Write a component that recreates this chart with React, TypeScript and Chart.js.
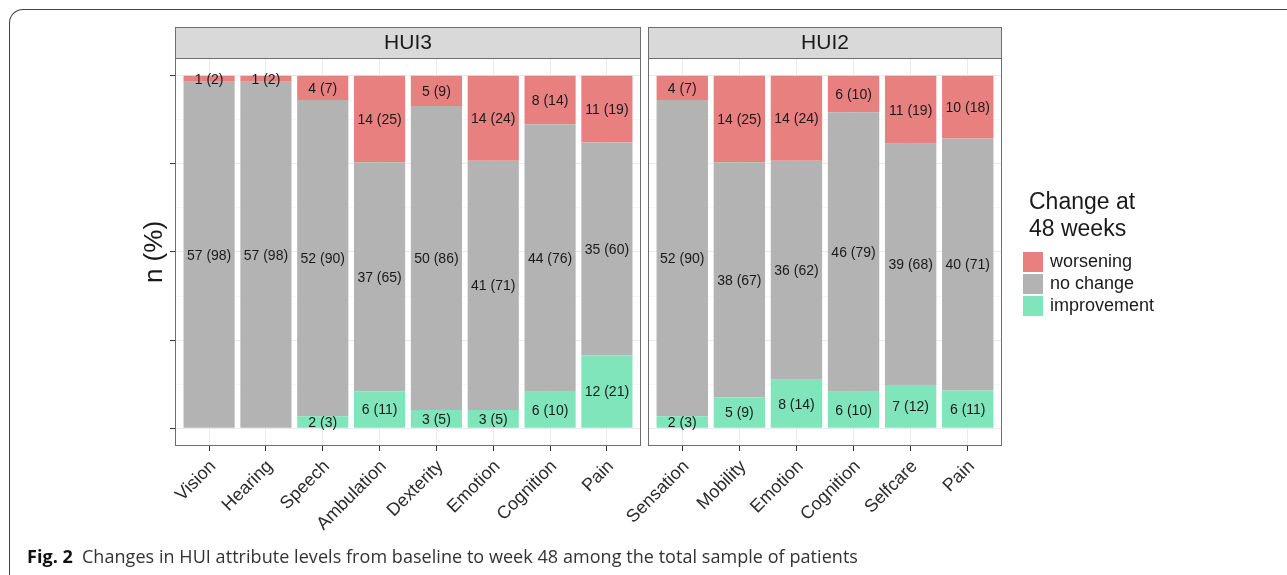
import React, { useEffect, useRef } from "react";
import { Chart, registerables } from "chart.js";

Chart.register(...registerables);

// ---------- data ----------
const hui3Categories = ["Vision", "Hearing", "Speech", "Ambulation", "Dexterity", "Emotion", "Cognition", "Pain"];
const hui3Worsening = [1, 1, 4, 14, 5, 14, 8, 11];
const hui3WorseningPct = [2, 2, 7, 25, 9, 24, 14, 19];
const hui3NoChange = [57, 57, 52, 37, 50, 41, 44, 35];
const hui3NoChangePct = [98, 98, 90, 65, 86, 71, 76, 60];
const hui3Improvement = [0, 0, 2, 6, 3, 3, 6, 12];
const hui3ImprovementPct = [0, 0, 3, 11, 5, 5, 10, 21];

const hui2Categories = ["Sensation", "Mobility", "Emotion", "Cognition", "Selfcare", "Pain"];
const hui2Worsening = [4, 14, 14, 6, 11, 10];
const hui2WorseningPct = [7, 25, 24, 10, 19, 18];
const hui2NoChange = [52, 38, 36, 46, 39, 40];
const hui2NoChangePct = [90, 67, 62, 79, 68, 71];
const hui2Improvement = [2, 5, 8, 6, 7, 6];
const hui2ImprovementPct = [3, 9, 14, 10, 12, 11];

const yMajorTicks = [0, 25, 50, 75, 100];
const yMinorTicks = [12.5, 37.5, 62.5, 87.5];
const seriesNames = ["improvement", "no change", "worsening"]; // bottom to top
const seriesColors = ["#80E5BB", "#B3B3B3", "#E88080"];
const legendTitle = ["Change at", "48 weeks"];
const yTitle = "n (%)";

const FONT = '"Liberation Sans", Arial, Helvetica, sans-serif';
const STRIP_H = 31;

function buildDatasets(counts: number[][], pcts: number[][]) {
  const n = counts[0].length;
  const totals = Array.from({ length: n }, (_, i) => counts.reduce((s, c) => s + c[i], 0));
  return counts.map((c, k) => ({
    label: seriesNames[k],
    data: c.map((v, i) => ({ x: i, y: (v / totals[i]) * 100 })),
    counts: c,
    pcts: pcts[k],
    backgroundColor: seriesColors[k],
    borderWidth: 0,
    barPercentage: 0.9,
    categoryPercentage: 1,
  }));
}

function facetPlugin(stripText: string, showLegend: boolean) {
  return {
    id: "facet",
    beforeDraw(chart: any) {
      const ctx = chart.ctx;
      const ca = chart.chartArea;
      ctx.save();
      ctx.fillStyle = "#D9D9D9";
      ctx.fillRect(ca.left, ca.top - STRIP_H, ca.right - ca.left, STRIP_H);
      ctx.strokeStyle = "#6E6E6E";
      ctx.lineWidth = 1;
      ctx.strokeRect(ca.left + 0.5, ca.top - STRIP_H + 0.5, ca.right - ca.left - 1, STRIP_H);
      ctx.fillStyle = "#1A1A1A";
      ctx.font = `21px ${FONT}`;
      ctx.textAlign = "center";
      ctx.textBaseline = "middle";
      ctx.fillText(stripText, (ca.left + ca.right) / 2, ca.top - STRIP_H / 2 + 1);
      ctx.restore();
    },
    afterDatasetsDraw(chart: any) {
      const ctx = chart.ctx;
      const ca = chart.chartArea;
      ctx.save();
      ctx.font = `14px ${FONT}`;
      ctx.fillStyle = "#1A1A1A";
      ctx.textAlign = "center";
      ctx.textBaseline = "middle";
      chart.data.datasets.forEach((ds: any, k: number) => {
        const meta = chart.getDatasetMeta(k);
        meta.data.forEach((el: any, i: number) => {
          const n = ds.counts[i];
          if (!n) return;
          ctx.fillText(`${n} (${ds.pcts[i]})`, el.x, (el.y + el.base) / 2 + 1);
        });
      });
      ctx.strokeStyle = "#6E6E6E";
      ctx.lineWidth = 1;
      ctx.strokeRect(ca.left + 0.5, ca.top + 0.5, ca.right - ca.left - 1, ca.bottom - ca.top - 1);
      ctx.restore();
    },
    afterDraw(chart: any) {
      if (!showLegend) return;
      const ctx = chart.ctx;
      const ca = chart.chartArea;
      ctx.save();
      ctx.fillStyle = "#1A1A1A";
      ctx.font = `23px ${FONT}`;
      ctx.textAlign = "left";
      ctx.textBaseline = "alphabetic";
      const tx = ca.right + 27;
      legendTitle.forEach((line, i) => ctx.fillText(line, tx, ca.top + 151 + i * 26.5));
      const ds = [...chart.data.datasets].reverse();
      ctx.font = `18px ${FONT}`;
      ctx.textBaseline = "middle";
      ds.forEach((d: any, i: number) => {
        const ky = ca.top + 194 + i * 22;
        ctx.fillStyle = d.backgroundColor;
        ctx.fillRect(ca.right + 21, ky, 20, 20);
        ctx.fillStyle = "#1A1A1A";
        ctx.fillText(d.label, ca.right + 48, ky + 10.5);
      });
      ctx.restore();
    },
  };
}

function makeConfig(
  cats: string[],
  counts: number[][],
  pcts: number[][],
  stripText: string,
  showY: boolean,
  padLeft: number,
  padRight: number,
  showLegend: boolean
): any {
  const isMajor = (v: number) => yMajorTicks.includes(v);
  return {
    type: "bar",
    data: { datasets: buildDatasets(counts, pcts) },
    options: {
      animation: false,
      responsive: false,
      events: [],
      layout: { autoPadding: false, padding: { top: STRIP_H, left: padLeft, right: padRight, bottom: 0 } },
      plugins: { legend: { display: false }, tooltip: { enabled: false }, title: { display: false } },
      scales: {
        x: {
          type: "linear",
          min: -0.6,
          max: cats.length - 0.4,
          stacked: true,
          offset: false,
          afterBuildTicks: (s: any) => {
            s.ticks = cats.map((_, i) => ({ value: i }));
          },
          afterFit: (s: any) => {
            s.height = 100;
          },
          ticks: {
            autoSkip: false,
            maxRotation: 45,
            minRotation: 45,
            padding: 5,
            labelOffset: 4,
            color: "#2B2B2B",
            font: { size: 18, family: FONT },
            callback: (v: any) => cats[Math.round(Number(v))] ?? "",
          },
          grid: {
            offset: false,
            color: "#EBEBEB",
            lineWidth: 1,
            drawTicks: true,
            tickLength: 5,
            tickColor: "#333333",
            tickWidth: 1,
          },
          border: { display: false },
        },
        y: {
          type: "linear",
          min: -5,
          max: 105,
          stacked: true,
          afterBuildTicks: (s: any) => {
            s.ticks = [...yMajorTicks, ...yMinorTicks].sort((a, b) => a - b).map((v) => ({ value: v }));
          },
          afterFit: (s: any) => {
            s.width = showY ? 39 : 0;
          },
          ticks: { display: false },
          grid: {
            color: (c: any) => (isMajor(c.tick.value) ? "#EBEBEB" : "#F2F2F2"),
            lineWidth: (c: any) => (isMajor(c.tick.value) ? 1.1 : 0.6),
            drawTicks: showY,
            tickLength: 5,
            tickColor: (c: any) => (isMajor(c.tick.value) ? "#333333" : "rgba(0,0,0,0)"),
            tickWidth: 1,
          },
          border: { display: false },
          title: {
            display: showY,
            text: yTitle,
            color: "#1A1A1A",
            font: { size: 26, family: FONT },
            padding: { top: 3, bottom: 0 },
          },
        },
      },
    },
    plugins: [facetPlugin(stripText, showLegend)],
  };
}

export default function App() {
  const ref3 = useRef<HTMLCanvasElement>(null);
  const ref2 = useRef<HTMLCanvasElement>(null);

  useEffect(() => {
    Chart.defaults.font.family = FONT;
    const c3 = new Chart(
      ref3.current as HTMLCanvasElement,
      makeConfig(
        hui3Categories,
        [hui3Improvement, hui3NoChange, hui3Worsening],
        [hui3ImprovementPct, hui3NoChangePct, hui3WorseningPct],
        "HUI3",
        true,
        0,
        2,
        false
      )
    );
    const c2 = new Chart(
      ref2.current as HTMLCanvasElement,
      makeConfig(
        hui2Categories,
        [hui2Improvement, hui2NoChange, hui2Worsening],
        [hui2ImprovementPct, hui2NoChangePct, hui2WorseningPct],
        "HUI2",
        false,
        88,
        285,
        true
      )
    );
    return () => {
      c3.destroy();
      c2.destroy();
    };
  }, []);

  return (
    <div
      style={{
        position: "absolute",
        left: 0,
        top: 0,
        width: 1287,
        height: 575,
        overflow: "hidden",
        background: "#ffffff",
      }}
    >
      <div
        style={{
          position: "absolute",
          left: 9,
          top: 9,
          width: 1400,
          height: 700,
          borderTop: "1.6px solid #444444",
          borderLeft: "1.6px solid #444444",
          borderTopLeftRadius: 14,
        }}
      />
      <canvas ref={ref3} width={507} height={519} style={{ position: "absolute", left: 136, top: 27 }} />
      <canvas ref={ref2} width={727} height={519} style={{ position: "absolute", left: 560, top: 27 }} />
      <div
        style={{
          position: "absolute",
          left: 27,
          top: 545,
          fontFamily: '"Open Sans", "Noto Sans", sans-serif',
          fontSize: 18,
          lineHeight: "22px",
          color: "#333333",
          whiteSpace: "nowrap",
          letterSpacing: "0.05px",
        }}
      >
        <span style={{ fontWeight: 700, color: "#111111", marginRight: 9 }}>Fig. 2</span>
        Changes in HUI attribute levels from baseline to week 48 among the total sample of patients
      </div>
    </div>
  );
}
